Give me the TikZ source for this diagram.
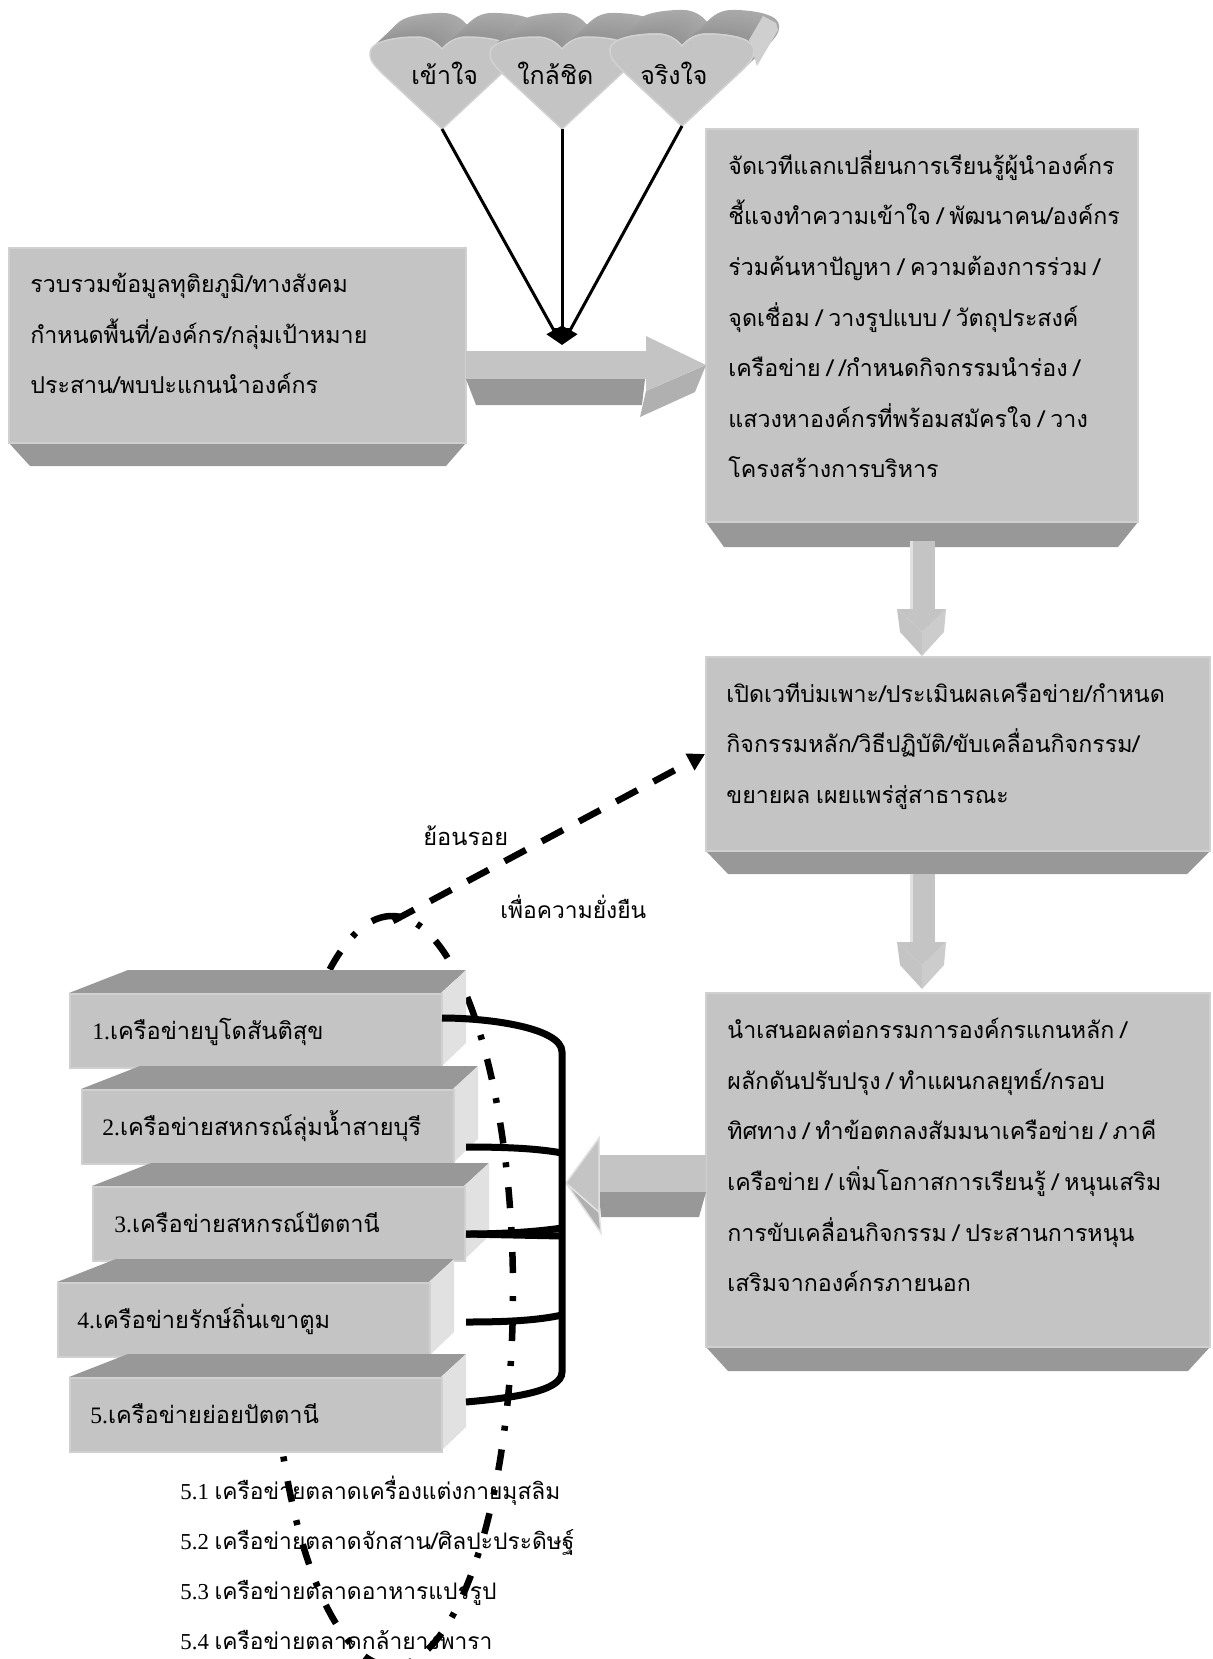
\documentclass[tikz,border=0pt]{standalone}
\usepackage{fontspec}
\setmainfont{Liberation Serif}
\newfontfamily\thaifont[Script=Thai]{Loma}
\usetikzlibrary{arrows.meta}

\definecolor{faceface}{HTML}{C4C4C4}
\definecolor{faceedge}{HTML}{D0D0D0}
\definecolor{bevelface}{HTML}{989898}
\definecolor{sideface}{HTML}{E1E1E1}

\newcommand{\heartpath}{(0,0) -- (-58,-54) .. controls (-68,-64) and (-72,-68) .. (-72,-76) .. controls (-72,-88) and (-45,-92) .. (-25,-92) .. controls (-14,-92) and (-6,-87) .. (0,-80) .. controls (6,-87) and (14,-92) .. (25,-92) .. controls (45,-92) and (72,-88) .. (72,-76) .. controls (72,-68) and (68,-64) .. (58,-54) -- cycle}

\newcommand{\panelfont}{\thaifont\fontsize{11.6}{25.3}\selectfont\setlength{\spaceskip}{0.25em}}

\tikzset{
  panel/.style={rectangle,draw=faceedge,fill=faceface,line width=0.75pt,inner sep=0pt},
  bevel/.style={fill=bevelface},
  side/.style={fill=sideface},
  paneltext/.style={anchor=north west,inner sep=0pt,align=left,font=\panelfont},
  plaintext/.style={anchor=base west,inner sep=0pt,font=\thaifont\fontsize{11.8}{15}\selectfont},
  smalltext/.style={plaintext,font=\thaifont\fontsize{11.4}{15}\selectfont},
  hearttext/.style={plaintext,font=\thaifont\fontsize{12.5}{15}\selectfont},
  thinline/.style={line width=1.5pt,-{Triangle[length=8.5pt,width=8pt]}},
  bracket/.style={line width=3.5pt},
  loopline/.style={line width=3.25pt,dash pattern=on 10.5pt off 10pt on 2.5pt off 9.5pt},
}

% block arrow pointing down, top of shaft at #2
\newcommand{\downblock}[2]{
  \fill[fill=faceface] (#1-12,#2) rectangle (#1+13,#2+68);
  \fill[fill=sideface] (#1-12,#2) rectangle (#1-9,#2+68);
  \fill[fill=faceface] (#1-25,#2+68) -- (#1,#2+91) -- (#1,#2+115) -- (#1-22,#2+91) -- cycle;
  \fill[fill=black!20] (#1+24,#2+68) -- (#1,#2+91) -- (#1,#2+115) -- (#1+22,#2+91) -- cycle;
  \fill[fill=faceface] (#1-25,#2+68) -- (#1+24,#2+68) -- (#1,#2+91) -- cycle;
}

\begin{document}
\begin{tikzpicture}[x=0.5pt,y=-0.5pt]

  \clip (0,0) rectangle (1213,1659);

  % the loop round the networks goes under everything else
  \draw[loopline,dash phase=23.5pt] (513,1291) arc [start angle=0,end angle=90,x radius=60.5pt,y radius=187.5pt];
  \draw[loopline] (392,916) arc [start angle=90,end angle=180,x radius=60.5pt,y radius=187.5pt];
  \draw[loopline,dash phase=18pt] (513,1291) arc [start angle=0,end angle=-90,x radius=60.5pt,y radius=187.5pt];
  \draw[loopline,dash phase=28.25pt] (392,1666) arc [start angle=270,end angle=180,x radius=60.5pt,y radius=187.5pt];

  % hearts
  \coordinate (tip1) at (442,129);
  \coordinate (tip2) at (562,129);
  \coordinate (tip3) at (682,126);
  \foreach \n in {1,2,3} {
    \begin{scope}[shift={(tip\n)}]
      \foreach \d [evaluate=\d as \g using 42-0.3*\d] in {28,26,...,2} {
        \fill[black!\g,shift={(\d*0.9,-\d*0.86)}] \heartpath;
      }
      \draw[draw=black!18,fill=faceface,line width=0.75pt] \heartpath;
    \end{scope}
  }
  \fill[fill=black!19] (749,40) -- (763,16) -- (776,23) -- (778,30) -- (757,66) -- cycle;
  \draw[draw=black!18,fill=faceface,line width=0.75pt,shift={(tip3)}] \heartpath;

  \node[hearttext] (heart1) at (411,85) {เข้าใจ};
  \node[hearttext] (heart2) at (517,85) {ใกล้ชิด};
  \node[hearttext] (heart3) at (640,85) {จริงใจ};

  % panels
  \fill[bevel] (9,443) -- (30,466) -- (446,466) -- (466,443) -- cycle;
  \node[panel,minimum width=228.5pt,minimum height=97.5pt] (collect) at (237.5,345.5) {};
  \fill[bevel] (706,522) -- (724,547) -- (1118,547) -- (1138,522) -- cycle;
  \node[panel,minimum width=216pt,minimum height=196.5pt] (forum) at (922,325.5) {};
  \fill[bevel] (706,851) -- (728,874) -- (1187,874) -- (1210,851) -- cycle;
  \node[panel,minimum width=252pt,minimum height=97pt] (incubate) at (958,754) {};
  \fill[bevel] (706,1347) -- (728,1371) -- (1188,1371) -- (1210,1347) -- cycle;
  \node[panel,minimum width=252pt,minimum height=177pt] (present) at (958,1170) {};

  \node[paneltext] (collecttext) at (30,273) {รวบรวมข้อมูลทุติยภูมิ/ทางสังคม\\กำหนดพื้นที่/องค์กร/กลุ่มเป้าหมาย\\ประสาน/พบปะแกนนำองค์กร};
  \node[paneltext] (forumtext) at (728,150) {จัดเวทีแลกเปลี่ยนการเรียนรู้ผู้นำองค์กร\\ชี้แจงทำความเข้าใจ / พัฒนาคน/องค์กร\\ร่วมค้นหาปัญหา / ความต้องการร่วม /\\จุดเชื่อม / วางรูปแบบ / วัตถุประสงค์\\เครือข่าย / /กำหนดกิจกรรมนำร่อง /\\แสวงหาองค์กรที่พร้อมสมัครใจ / วาง\\โครงสร้างการบริหาร};
  \node[paneltext] (incubatetext) at (726,682) {เปิดเวทีบ่มเพาะ/ประเมินผลเครือข่าย/กำหนด\\กิจกรรมหลัก/วิธีปฏิบัติ/ขับเคลื่อนกิจกรรม/\\ขยายผล เผยแพร่สู่สาธารณะ};
  \node[paneltext] (presenttext) at (727,1018) {นำเสนอผลต่อกรรมการองค์กรแกนหลัก /\\ผลักดันปรับปรุง / ทำแผนกลยุทธ์/กรอบ\\ทิศทาง / ทำข้อตกลงสัมมนาเครือข่าย / ภาคี\\เครือข่าย / เพิ่มโอกาสการเรียนรู้ / หนุนเสริม\\การขับเคลื่อนกิจกรรม / ประสานการหนุน\\เสริมจากองค์กรภายนอก};

  % block arrows
  \fill[bevel] (466,379) -- (476,405) -- (642,405) -- (645,379) -- cycle;
  \fill[fill=faceface] (466,351) rectangle (646,379);
  \fill[fill=faceface!90!black] (646,391) -- (706,365) -- (695,392) -- (640,417) -- cycle;
  \fill[fill=faceface] (646,336) -- (706,365) -- (646,391) -- cycle;

  \downblock{922}{541}
  \downblock{922}{874}

  \fill[bevel] (599,1192) -- (706,1192) -- (699,1217) -- (601,1217) -- cycle;
  \fill[fill=faceface] (599,1155) rectangle (706,1192);
  \draw[draw=sideface,fill=faceface!90!black,line width=0.75pt] (566,1183) -- (599,1212) -- (601,1233) -- cycle;
  \draw[draw=sideface,fill=faceface,line width=0.75pt] (566,1183) -- (599,1138) -- (599,1212) -- cycle;

  % networks
  \foreach \n/\x/\y/\tx/\t in {1/69/993/92/เครือข่ายบูโดสันติสุข,
                               2/81/1089/102/เครือข่ายสหกรณ์ลุ่มน้ำสายบุรี,
                               3/92/1186/114/เครือข่ายสหกรณ์ปัตตานี,
                               4/57/1282/77/เครือข่ายรักษ์ถิ่นเขาตูม,
                               5/69/1377/90/เครือข่ายย่อยปัตตานี} {
    \fill[bevel] (\x,\y) -- (\x+59,\y-23) -- (\x+397,\y-23) -- (\x+372,\y) -- cycle;
    \fill[side] (\x+372,\y) -- (\x+397,\y-23) -- (\x+397,\y+50) -- (\x+372,\y+74) -- cycle;
    \node[panel,anchor=north west,minimum width=186pt,minimum height=37pt] (net\n) at (\x,\y) {};
    \node[plaintext] (nettext\n) at (\tx,\y+46) {{\rmfamily\n.}\t};
  }

  \foreach \n/\y/\t in {1/1499/{เครือข่ายตลาดเครื่องแต่งกายมุสลิม},
                        2/1549/{เครือข่ายตลาดจักสาน/ศิลปะประดิษฐ์},
                        3/1599/{เครือข่ายตลาดอาหารแปรรูป},
                        4/1649/{เครือข่ายตลาดกล้ายางพารา}} {
    \node[smalltext] (sub\n) at (180,\y) {{\rmfamily 5.\n\ }\t};
  }

  % bracket joining the networks
  \coordinate (top) at (562,1052);
  \coordinate (bottom) at (562,1372);
  \draw[bracket] (442,1018) .. controls (490,1018) and (562,1028) .. (top) -- (bottom)
                 .. controls (562,1392) and (510,1398) .. (466,1402);
  \draw[bracket] (466,1147) .. controls (500,1147) and (535,1148) .. (562,1153);
  \draw[bracket] (466,1234) .. controls (500,1234) and (535,1232) .. (562,1228);
  \draw[bracket] (466,1234) -- (562,1236);
  \draw[bracket] (466,1322) .. controls (500,1322) and (535,1321) .. (562,1315);

  % heart lines
  \coordinate (join) at (562,345);
  \draw[thinline] (tip1) -- (join);
  \draw[thinline] (tip2) -- (join);
  \draw[thinline] (tip3) -- (join);

  % way back to the forum
  \coordinate (loopend) at (393,921);
  \coordinate (backtip) at (705,754);
  \draw[line width=3.25pt,dash pattern=on 12pt off 9.1pt,-{Triangle[length=8.5pt,width=9pt]}] (loopend) -- (backtip);
  \node[plaintext] (backlabel) at (423,845) {ย้อนรอย};
  \node[smalltext] (lastlabel) at (500,918) {เพื่อความยั่งยืน};

\end{tikzpicture}
\end{document}
